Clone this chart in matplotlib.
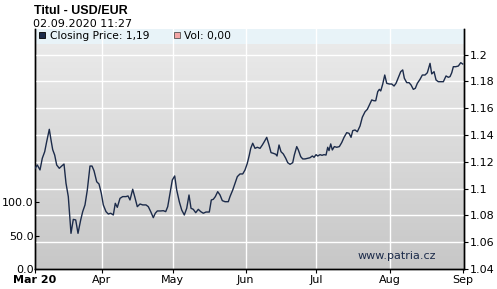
import numpy as np
import matplotlib
matplotlib.use("Agg")
import matplotlib.pyplot as plt
from matplotlib.patches import Rectangle
from matplotlib.colors import LinearSegmentedColormap

plt.rcParams['font.family'] = ['DejaVu Sans']

# days since 2020-03-01
days = [2.74, 3.71, 4.86, 5.83, 6.85, 7.69, 8.80, 9.64, 10.24, 11.08, 11.93, 13.03, 14.05,
        15.03, 15.87, 16.85, 17.27, 17.99, 18.97, 19.98, 20.96, 22.10, 22.95, 23.92, 24.90,
        26.04, 26.89, 27.74, 28.88, 29.86, 30.83, 31.68, 32.82, 33.80, 34.81, 35.92, 36.76,
        37.61, 38.75, 39.90, 41.30, 42.14, 42.99, 44.13, 44.98, 46.08, 47.23, 48.37, 49.77,
        50.75, 51.76, 52.86, 53.71, 54.56, 56.00, 57.10, 58.12, 58.97, 59.94, 60.92, 61.93,
        62.78, 63.88, 64.90, 66.00, 67.02, 67.99, 68.84, 69.81, 70.83, 71.93, 72.95, 74.05,
        75.19, 76.59, 77.44, 78.29, 79.14, 80.15, 81.13, 82.10, 83.25, 84.64, 85.36, 86.51,
        87.48, 88.46, 89.60, 90.75, 91.72, 92.69, 93.54, 94.14, 94.98, 95.96, 96.93, 98.08,
        99.05, 99.90, 100.92, 101.89, 102.74, 103.71, 104.73, 105.28, 106.13, 106.97, 107.95,
        108.97, 109.81, 110.79, 111.93, 112.61, 113.63, 114.31, 115.32, 116.17, 117.14,
        118.29, 119.26, 120.24, 120.96, 121.81, 122.53, 123.50, 124.35, 125.19, 126.04,
        126.76, 127.31, 128.03, 128.71, 129.56, 130.58, 131.68, 132.69, 133.67, 134.81,
        135.79, 136.64, 137.36, 138.33, 139.31, 140.45, 141.42, 142.57, 143.54, 144.39,
        145.41, 146.38, 147.10, 147.95, 148.63, 149.22, 150.07, 150.92, 151.76, 152.86,
        153.88, 154.86, 155.70, 156.68, 157.69, 158.54, 159.22, 160.24, 161.21, 162.06,
        163.03, 163.88, 164.73, 165.87, 166.85, 167.99, 168.97, 170.11, 170.83, 171.81,
        172.65, 173.63, 174.64, 175.75, 176.89, 177.86, 178.58, 179.31, 179.98, 181.00,
        182.10, 183.12, 183.97]
price = [1.1151, 1.1176, 1.1139, 1.1226, 1.1275, 1.1350, 1.1442, 1.1350, 1.1290, 1.1250,
         1.1176, 1.1151, 1.1168, 1.1183, 1.1040, 1.0940, 1.0840, 1.0666, 1.0770, 1.0766,
         1.0666, 1.0766, 1.0828, 1.0878, 1.0989, 1.1168, 1.1168, 1.1133, 1.1051, 1.1034,
         1.0965, 1.0878, 1.0828, 1.0810, 1.0816, 1.0803, 1.0890, 1.0860, 1.0927, 1.0940,
         1.0940, 1.0945, 1.0915, 1.0995, 1.0940, 1.0865, 1.0885, 1.0878, 1.0878, 1.0865,
         1.0828, 1.0783, 1.0816, 1.0833, 1.0833, 1.0835, 1.0828, 1.0865, 1.0965, 1.1064,
         1.1094, 1.0989, 1.0902, 1.0840, 1.0803, 1.0853, 1.0952, 1.0853, 1.0845, 1.0820,
         1.0845, 1.0828, 1.0816, 1.0825, 1.0825, 1.0915, 1.0920, 1.0940, 1.0977, 1.0952,
         1.0910, 1.0902, 1.0902, 1.0940, 1.0989, 1.1040, 1.1089, 1.1109, 1.1109, 1.1139,
         1.1188, 1.1250, 1.1300, 1.1338, 1.1300, 1.1308, 1.1300, 1.1325, 1.1350, 1.1382,
         1.1325, 1.1268, 1.1263, 1.1256, 1.1243, 1.1325, 1.1275, 1.1258, 1.1226, 1.1193,
         1.1181, 1.1193, 1.1250, 1.1313, 1.1288, 1.1238, 1.1221, 1.1221, 1.1226, 1.1230,
         1.1243, 1.1233, 1.1253, 1.1243, 1.1253, 1.1248, 1.1253, 1.1250, 1.1308, 1.1283,
         1.1333, 1.1288, 1.1313, 1.1308, 1.1313, 1.1343, 1.1382, 1.1417, 1.1412, 1.1382,
         1.1432, 1.1437, 1.1424, 1.1467, 1.1532, 1.1573, 1.1591, 1.1623, 1.1661, 1.1655,
         1.1655, 1.1723, 1.1740, 1.1728, 1.1780, 1.1847, 1.1785, 1.1780, 1.1780, 1.1765,
         1.1785, 1.1827, 1.1872, 1.1885, 1.1823, 1.1790, 1.1790, 1.1773, 1.1740, 1.1748,
         1.1785, 1.1815, 1.1847, 1.1847, 1.1864, 1.1934, 1.1855, 1.1872, 1.1810, 1.1797,
         1.1797, 1.1797, 1.1840, 1.1830, 1.1835, 1.1864, 1.1909, 1.1909, 1.1914, 1.1939,
         1.1929]

month_days = [2.74, 31, 61, 92, 122, 153, 184]
month_labels = ["Mar 20", "Apr", "May", "Jun", "Jul", "Aug", "Sep"]
price_ticks = [1.04, 1.06, 1.08, 1.10, 1.12, 1.14, 1.16, 1.18, 1.20]
price_labels = ["1.04", "1.06", "1.08", "1.1", "1.12", "1.14", "1.16", "1.18", "1.2"]
vol_ticks = [0, 50, 100]
vol_labels = ["0.0", "50.0", "100.0"]

W, H = 497, 289
fig = plt.figure(figsize=(W / 100, H / 100), dpi=100)
fig.patch.set_facecolor("white")

L, R, T, B = 35, 464, 29.5, 269
ax = fig.add_axes([L / W, (H - B) / H, (R - L) / W, (B - T) / H])  # volume (left)
axp = ax.twinx()  # price (right)

ax.set_xlim(2.74, 184.5)
ax.set_ylim(0, 357.5)
axp.set_ylim(1.04, 1.21865)

# gradient background
grad = np.linspace(0, 1, 256).reshape(-1, 1)
cmap = LinearSegmentedColormap.from_list("g", ["#c7c7c7", "#ececec"])
ax.imshow(grad, extent=[0, 1, 0, 1], transform=ax.transAxes, cmap=cmap,
          origin="lower", aspect="auto", zorder=0)
band_h = (44 - T) / (B - T)
ax.add_patch(Rectangle((0, 1 - band_h), 1, band_h, transform=ax.transAxes,
                       facecolor="#e8f3f8", edgecolor="none", zorder=0.5))

# grid
for d in month_days[1:-1]:
    ax.axvline(d, color="white", lw=1.0, zorder=1)
for p in price_ticks[1:]:
    axp.axhline(p, color="white", lw=1.0, zorder=1)

axp.plot(days, price, color="#1c2b4a", lw=1.0, zorder=3)

# spines
for a in (ax, axp):
    a.spines["top"].set_visible(False)
    for s in ("left", "right", "bottom"):
        a.spines[s].set_color("black")
        a.spines[s].set_linewidth(1.0)

ax.set_xticks(month_days)
ax.set_xticklabels(month_labels, fontsize=8)
ax.get_xticklabels()[0].set_fontweight("bold")
ax.tick_params(axis="x", length=3, pad=1, direction="out")
ax.set_yticks(vol_ticks)
ax.set_yticklabels(vol_labels, fontsize=8)
ax.tick_params(axis="y", length=3, pad=1, direction="in")
axp.set_yticks(price_ticks)
axp.set_yticklabels(price_labels, fontsize=8)
axp.tick_params(axis="y", length=3, pad=1, direction="out")

# legend in band
ax.add_patch(Rectangle((39 / W, (H - 38) / H), 6 / W, 6 / H, transform=fig.transFigure,
                       facecolor="#1c2b4a", edgecolor="black", lw=0.6, zorder=5, clip_on=False))
fig.text(50 / W, 1 - 36 / H, "Closing Price: 1,19", fontsize=7.7, va="center", ha="left")
ax.add_patch(Rectangle((174 / W, (H - 38) / H), 6 / W, 6 / H, transform=fig.transFigure,
                       facecolor="#f4a6a6", edgecolor="#555555", lw=0.6, zorder=5, clip_on=False))
fig.text(184 / W, 1 - 36 / H, "Vol: 0,00", fontsize=7.7, va="center", ha="left")

# titles
fig.text(34 / W, 1 - 11.5 / H, "Titul - USD/EUR", fontsize=9, fontweight="bold",
         va="center", ha="left", family=["Liberation Sans"])
fig.text(33 / W, 1 - 24 / H, "02.09.2020 11:27", fontsize=8, va="center", ha="left")

# watermark
ax.text(396.5 / W, 1 - 256 / H, "www.patria.cz", transform=fig.transFigure, fontsize=8,
        color="#1c2b4a", ha="center", va="center", zorder=4)

fig.savefig("out.png", dpi=100)
